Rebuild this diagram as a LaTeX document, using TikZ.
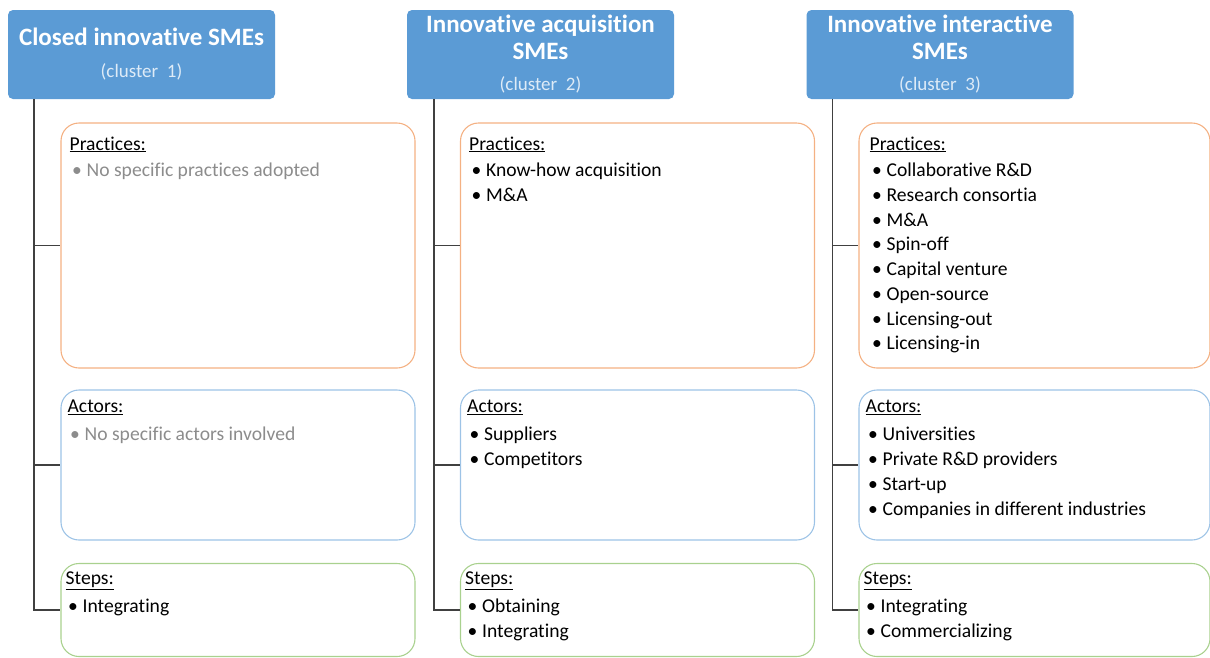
\documentclass[tikz,border=0pt]{standalone}
\usepackage{fontspec}
\setmainfont{Carlito}[Ligatures=NoCommon]
\usetikzlibrary{positioning}
\definecolor{headblue}{HTML}{5B9BD5}
\definecolor{clusterwhite}{HTML}{DEEBF7}
\definecolor{boxorange}{HTML}{F4B183}
\definecolor{boxblue}{HTML}{9DC3E6}
\definecolor{boxgreen}{HTML}{A9D18E}
\definecolor{linegray}{HTML}{404040}
\definecolor{textgray}{HTML}{8C8C8C}
\newcommand{\bulletitem}[1]{\makebox[17pt][l]{\hspace{2.5pt}•}#1}
\newcommand{\clusterlabel}[1]{{\fontsize{19}{21}\mdseries\selectfont\color{clusterwhite}(cluster~~#1)}}

\begin{document}
\begin{tikzpicture}
[ x=1pt, y=-1pt
, header/.style={rectangle, rounded corners=5pt, fill=headblue, text=white, minimum width=267pt, minimum height=89pt, align=center, inner sep=0pt, font=\fontsize{25}{27}\bfseries\selectfont}
, group/.style={rectangle, rounded corners=18pt, draw, line width=1.1pt, minimum width=354pt, inner sep=0pt}
, practicebox/.style={group, draw=boxorange, minimum height=245pt}
, actorbox/.style={group, draw=boxblue, minimum height=150pt}
, stepbox/.style={group, draw=boxgreen, minimum height=93pt}
, list/.style={anchor=north west, align=left, inner sep=0pt, font=\fontsize{19.6}{24.7}\selectfont}
, link/.style={draw=linegray, line width=1.4pt}
]
\useasboundingbox (0,0) rectangle (1210,657);
% Headers:
\node (h1) [header] at (141.5,54.5) {Closed innovative SMEs\\[5pt]\clusterlabel{1}};
\node (h2) [header] at (540.5,54.5) {Innovative acquisition\\SMEs\\[4pt]\clusterlabel{2}};
\node (h3) [header] at (940,54.5) {Innovative interactive\\SMEs\\[4pt]\clusterlabel{3}};
\coordinate (t1) at ([xshift=26pt]h1.south west);
\coordinate (t2) at ([xshift=27pt]h2.south west);
\coordinate (t3) at ([xshift=26pt]h3.south west);
% First column:
\node (p1) [practicebox] at (238,245.5) {};
\node (a1) [actorbox] at (238,465) {};
\node (s1) [stepbox] at (238,610) {};
\node (p1text) [list, below right=14pt and 9pt of p1.north west]
  {\underline{Practices:}\\[2pt]\textcolor{textgray}{\bulletitem{No specific practices adopted}}};
\node (a1text) [list, below right=10pt and 7pt of a1.north west]
  {\underline{Actors:}\\[4pt]\textcolor{textgray}{\bulletitem{No specific actors involved}}};
\node (s1text) [list, below right=9pt and 5pt of s1.north west]
  {\underline{Steps:}\\[3pt]\bulletitem{Integrating}};
% Second column:
\node (p2) [practicebox] at (637.5,245.5) {};
\node (a2) [actorbox] at (637.5,465) {};
\node (s2) [stepbox] at (637.5,610) {};
\node (p2text) [list, below right=14pt and 9pt of p2.north west]
  {\underline{Practices:}\\[2pt]\bulletitem{Know-how acquisition}\\\bulletitem{M\&A}};
\node (a2text) [list, below right=10pt and 7pt of a2.north west]
  {\underline{Actors:}\\[4pt]\bulletitem{Suppliers}\\\bulletitem{Competitors}};
\node (s2text) [list, below right=9pt and 5pt of s2.north west]
  {\underline{Steps:}\\[3pt]\bulletitem{Obtaining}\\\bulletitem{Integrating}};
% Third column:
\node (p3) [practicebox, minimum width=351pt] at (1034.5,245.5) {};
\node (a3) [actorbox, minimum width=351pt] at (1034.5,465) {};
\node (s3) [stepbox, minimum width=351pt] at (1034.5,610) {};
\node (p3text) [list, below right=14pt and 11pt of p3.north west]
  {\underline{Practices:}\\[2pt]\bulletitem{Collaborative R\&D}\\\bulletitem{Research consortia}\\\bulletitem{M\&A}\\\bulletitem{Spin-off}\\
   \bulletitem{Capital venture}\\\bulletitem{Open-source}\\\bulletitem{Licensing-out}\\\bulletitem{Licensing-in}};
\node (a3text) [list, below right=10pt and 7pt of a3.north west]
  {\underline{Actors:}\\[4pt]\bulletitem{Universities}\\\bulletitem{Private R\&D providers}\\\bulletitem{Start-up}\\\bulletitem{Companies in different industries}};
\node (s3text) [list, below right=9pt and 5pt of s3.north west]
  {\underline{Steps:}\\[3pt]\bulletitem{Integrating}\\\bulletitem{Commercializing}};
% Connectors:
\draw [link] (t1) |- (p1.west);
\draw [link] (t1) |- (a1.west);
\draw [link] (t1) |- (s1.west);
\draw [link] (t2) |- (p2.west);
\draw [link] (t2) |- (a2.west);
\draw [link] (t2) |- (s2.west);
\draw [link] (t3) |- (p3.west);
\draw [link] (t3) |- (a3.west);
\draw [link] (t3) |- (s3.west);
\end{tikzpicture}
\end{document}
